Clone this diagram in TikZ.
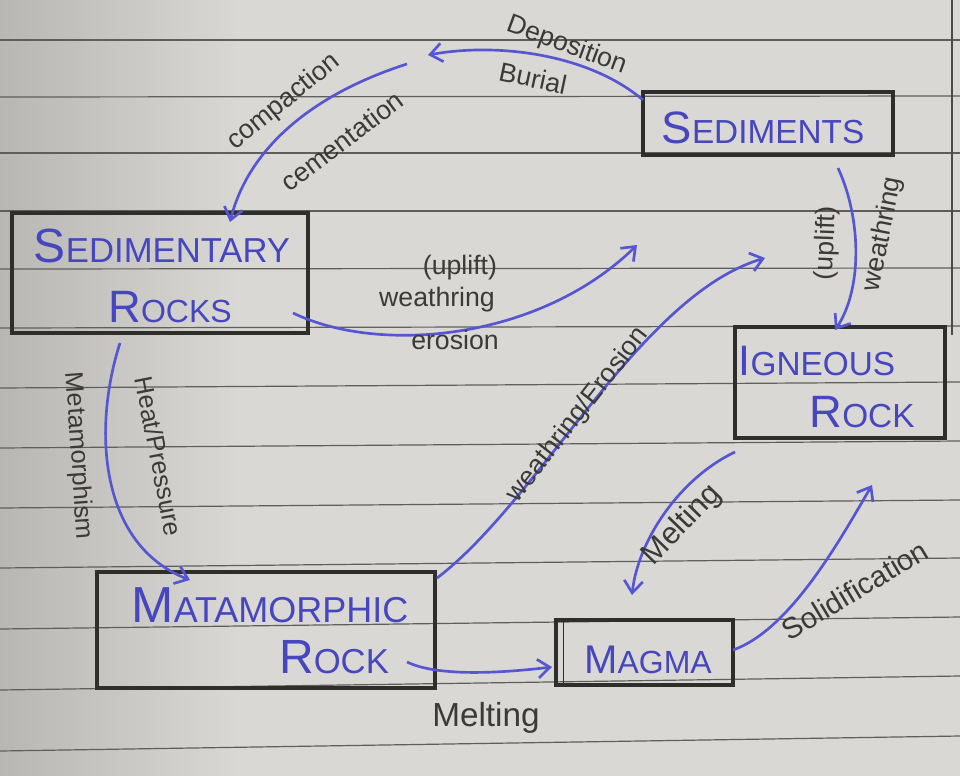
\documentclass[tikz,border=0pt]{standalone}
\usepackage{fontspec}
\setmainfont{Liberation Sans}
\usetikzlibrary{arrows.meta}
\definecolor{paper}{HTML}{D9D8D4}
\definecolor{rule}{HTML}{5E5E5C}
\definecolor{ink}{HTML}{5656D2}
\definecolor{boxink}{HTML}{4646BE}
\definecolor{pencil}{HTML}{3A3A38}
\definecolor{frame}{HTML}{2E2E2C}
\tikzset{
  rockbox/.style={draw=frame, line width=2.6pt, inner sep=0pt},
  flow/.style={draw=ink, line width=2pt, -{Straight Barb[length=9pt,width=14pt,line width=2pt]}},
  lbl/.style={text=pencil, font=\fontsize{20}{22}\selectfont, inner sep=0pt},
  boxtxt/.style={text=boxink, inner sep=0pt},
}
\newcommand{\szt}[2]{{\fontsize{#1}{#1}\selectfont #2}}
\begin{document}
\begin{tikzpicture}[x=0.75pt,y=-0.75pt]
\useasboundingbox (0,0) rectangle (960,775);
% paper
\fill[paper] (-10,-10) rectangle (970,785);
\shade[left color=paper!84!black, middle color=paper!93!black, right color=paper] (-10,-10) rectangle (240,785);
% rules
\foreach \a/\b in {40/40,97/96,153/153,211/211,269/268,328/326,388/382,448/441,508/500,568/558,629/617,690/676,751/736}
  \draw[rule, line width=0.9pt] (0,\a) -- (960,\b);
\draw[rule!80!black, line width=2pt] (952,0) -- (952,335);

% boxes
\node[rockbox, minimum width=296*0.75pt, minimum height=120*0.75pt] (sedrock) at (160,273) {};
\node[rockbox, minimum width=250*0.75pt, minimum height=63*0.75pt] (sediments) at (768,123.5) {};
\node[rockbox, minimum width=210*0.75pt, minimum height=111*0.75pt] (igneous) at (840,382.5) {};
\node[rockbox, minimum width=338*0.75pt, minimum height=116*0.75pt] (meta) at (266,630) {};
\node[rockbox, minimum width=177*0.75pt, minimum height=65*0.75pt] (magma) at (644.5,652.5) {};
\draw[frame, line width=1.2pt] ([xshift=7pt]magma.north west) -- ([xshift=7pt]magma.south west);

% box texts
\node[boxtxt, anchor=base] (t1) at (162,262) {\szt{36}{S}\szt{26}{EDIMENTARY}};
\node[boxtxt, anchor=base] (t2) at (170,322) {\szt{34}{R}\szt{24}{OCKS}};
\node[boxtxt, anchor=base] (t3) at (763,143) {\szt{34}{S}\szt{25}{EDIMENTS}};
\node[boxtxt, anchor=base] (t4) at (817,375) {\szt{32}{I}\szt{25}{GNEOUS}};
\node[boxtxt, anchor=base] (t5) at (862,427) {\szt{34}{R}\szt{25}{OCK}};
\node[boxtxt, anchor=base] (t6) at (270,622) {\szt{38}{M}\szt{27}{ATAMORPHIC}};
\node[boxtxt, anchor=base] (t7) at (334,673) {\szt{36}{R}\szt{26}{OCK}};
\node[boxtxt, anchor=base] (t8) at (648,673) {\szt{30}{M}\szt{24}{AGMA}};

% connector end points
\coordinate (d0) at (643,100);
\coordinate (d1) at (428,55);
\coordinate (c0) at (407,64);
\coordinate (c1) at (230,222);
\coordinate (u0) at (293,313);
\coordinate (u1) at (637,245);
\coordinate (h0) at (120,343);
\coordinate (h1) at (190,580);
\coordinate (w0) at (437,578);
\coordinate (w1) at (765,258);
\coordinate (s0) at (838,168);
\coordinate (s1) at (835,330);
\coordinate (m0) at (735,452);
\coordinate (m1) at (632,595);
\coordinate (o0) at (733,650);
\coordinate (o1) at (872,485);
\coordinate (b0) at (407,662);
\coordinate (b1) at (552,667);

% connectors
\draw[flow] (d0) .. controls (590,55) and (500,42) .. (d1);
\draw[flow] (c0) .. controls (310,95) and (248,150) .. (c1);
\draw[flow] (u0) .. controls (380,355) and (540,340) .. (u1);
\draw[flow] (h0) .. controls (92,430) and (100,545) .. (h1);
\draw[flow] (w0) .. controls (540,500) and (640,295) .. (w1);
\draw[flow] (s0) .. controls (862,220) and (862,290) .. (s1);
\draw[flow] (m0) .. controls (680,478) and (638,540) .. (m1);
\draw[flow] (o0) .. controls (790,630) and (840,540) .. (o1);
\draw[flow] (b0) .. controls (440,678) and (510,672) .. (b1);

% labels
\node[lbl, rotate=-20] (l1) at (567,46) {Deposition};
\node[lbl, rotate=-12] (l2) at (533,78) {Burial};
\node[lbl, rotate=39] (l3) at (284,102) {compaction};
\node[lbl, rotate=37] (l4) at (342,141) {cementation};
\node[lbl] (l5) at (460,268) {(uplift)};
\node[lbl] (l6) at (437,300) {weathring};
\node[lbl] (l7) at (455,340) {erosion};
\node[lbl, rotate=-79, font=\fontsize{19}{21}\selectfont] (l8) at (159,456) {Heat/Pressure};
\node[lbl, rotate=-86, font=\fontsize{19}{21}\selectfont] (l9) at (78,456) {Metamorphism};
\node[lbl, rotate=52] (l10) at (578,415) {weathring/Erosion};
\node[lbl, rotate=88] (l11) at (827,243) {(uplift)};
\node[lbl, rotate=79] (l12) at (883,234) {weathring};
\node[lbl, rotate=46, font=\fontsize{23}{25}\selectfont] (l13) at (682,525) {Melting};
\node[lbl, rotate=31, font=\fontsize{22}{24}\selectfont] (l14) at (855,590) {Solidification};
\node[lbl, font=\fontsize{25}{27}\selectfont] (l15) at (486,718) {Melting};
\end{tikzpicture}
\end{document}
